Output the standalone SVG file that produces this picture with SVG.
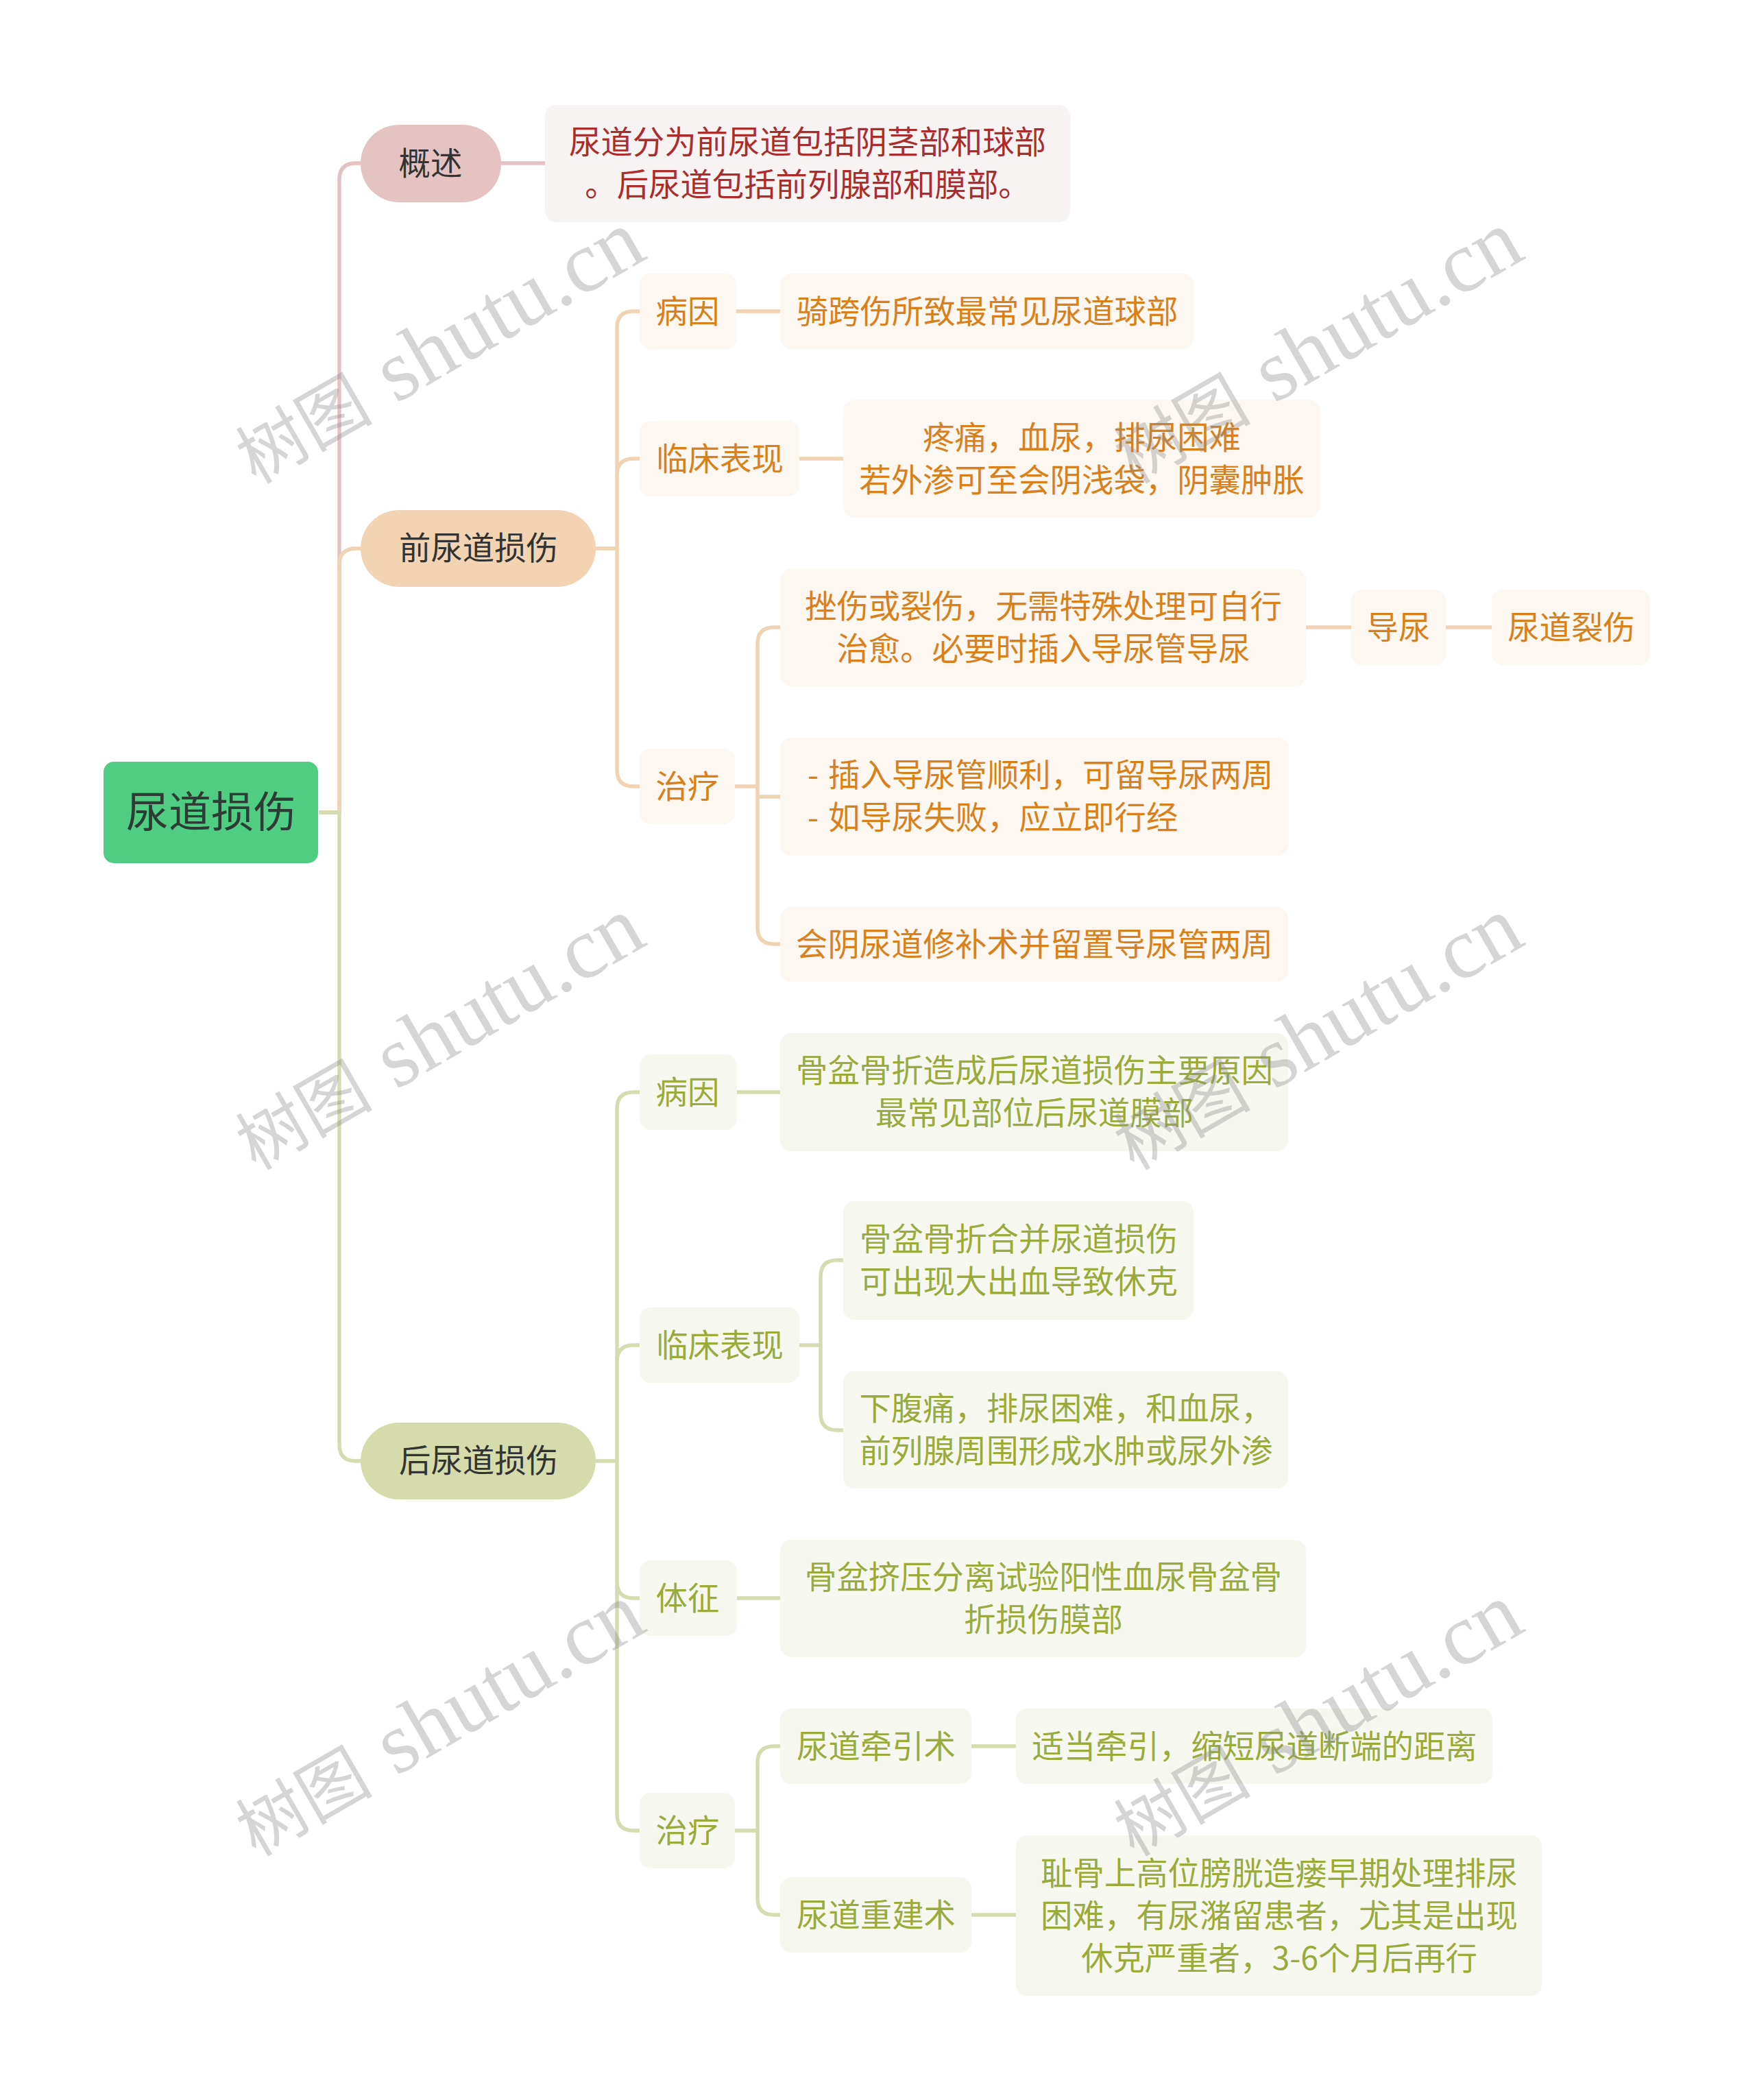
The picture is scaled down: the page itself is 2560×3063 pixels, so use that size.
<svg xmlns="http://www.w3.org/2000/svg" width="2560" height="3063" viewBox="0 0 2560 3063">
<style>
text{font-family:"Noto Sans CJK SC","Noto Sans",sans-serif;font-size:46.4px;text-anchor:middle}
.c{fill:none;stroke-width:5.4;stroke-linecap:butt}
.cr{stroke:#e4c2c2}.co{stroke:#f0d3b3}.cg{stroke:#d6dbb0}
.r rect{fill:#f8f3f3}.r text{fill:#ab2c2c}
.o rect{fill:#fdf7f1}.o text{fill:#d9801b}
.g rect{fill:#f6f8f0}.g text{fill:#9aab3c}
.p text{fill:#333}
.s{text-anchor:start}
.w{font-family:"Noto Sans CJK SC",serif;font-size:100px;fill:#8a8a8a;fill-opacity:.36;text-anchor:start}
.w tspan{font-family:"Liberation Serif",serif;font-size:127px}
</style>
<rect width="2560" height="3063" fill="#fff"/>
<g id="connectors">
<path class="c cr" d="M465 1185H495V262Q495 238 519 238H526M731 238H795"/>
<path class="c co" d="M465 1185H495V824Q495 800 519 800H526M869 800H900M900 800V478Q900 454 924 454H933M1074 454H1138M1165 669H1230M900 693Q900 669 924 669H933M900 800V1123Q900 1147 924 1147H933M1072 1147H1105M1105 1147V939Q1105 915 1129 915H1138M1105 1147V1162H1138M1105 1147V1353Q1105 1377 1129 1377H1138M1904 915H1971M2109 915H2176"/>
<path class="c cg" d="M465 1185H495V2107Q495 2131 519 2131H526M869 2131H900M900 2131V1617Q900 1593 924 1593H933M900 2131V1986Q900 1962 924 1962H933M900 2131V2307Q900 2331 924 2331H933M900 2131V2646Q900 2670 924 2670H933M1075 1593H1138M1165 1962H1197M1197 1962V1862Q1197 1838 1221 1838H1230M1197 1962V2062Q1197 2086 1221 2086H1230M1075 2331H1138M1072 2670H1105M1105 2670V2571Q1105 2547 1129 2547H1138M1105 2670V2769Q1105 2793 1129 2793H1138M1415 2547H1482M1415 2793H1482"/>
</g>
<g id="root"><rect x="151" y="1111" width="313" height="148" rx="15" fill="#4fce83"/><text x="308" y="1207" style="font-size:62px" fill="#2f3b35">尿道损伤</text></g>

<g id="n1" class="p"><rect x="526" y="182" width="205" height="113" rx="56" fill="#e6c3c3"/><text x="628" y="255">概述</text></g>
<g id="n1a" class="r"><rect x="795" y="153" width="766" height="171" rx="16"/><text x="1178" y="224">尿道分为前尿道包括阴茎部和球部</text><text x="1178" y="286">。后尿道包括前列腺部和膜部。</text></g>

<g id="n2" class="p"><rect x="526" y="744" width="343" height="112" rx="56" fill="#f2d4b2"/><text x="698" y="816">前尿道损伤</text></g>
<g id="n2a" class="o"><rect x="933" y="399" width="141" height="110" rx="16"/><text x="1003" y="471">病因</text></g>
<g id="n2a1" class="o"><rect x="1138" y="399" width="603" height="110" rx="16"/><text x="1440" y="471">骑跨伤所致最常见尿道球部</text></g>
<g id="n2b" class="o"><rect x="933" y="614" width="233" height="110" rx="16"/><text x="1050" y="686">临床表现</text></g>
<g id="n2b1" class="o"><rect x="1230" y="583" width="695" height="172" rx="16"/><text x="1578" y="655">疼痛，血尿，排尿困难</text><text x="1578" y="717">若外渗可至会阴浅袋，阴囊肿胀</text></g>
<g id="n2c" class="o"><rect x="933" y="1092" width="139" height="110" rx="16"/><text x="1003" y="1164">治疗</text></g>
<g id="n2c1" class="o"><rect x="1138" y="830" width="767" height="171" rx="16"/><text x="1522" y="901">挫伤或裂伤，无需特殊处理可自行</text><text x="1522" y="963">治愈。必要时插入导尿管导尿</text></g>
<g id="n2c1a" class="o"><rect x="1971" y="860" width="138" height="110" rx="16"/><text x="2040" y="932">导尿</text></g>
<g id="n2c1b" class="o"><rect x="2176" y="860" width="231" height="110" rx="16"/><text x="2292" y="932">尿道裂伤</text></g>
<g id="n2c2" class="o"><rect x="1138" y="1076" width="742" height="172" rx="16"/><text class="s" x="1178" y="1147">- <tspan x="1208">插入导尿管顺利，可留导尿两周</tspan></text><text class="s" x="1178" y="1209">- <tspan x="1208">如导尿失败，应立即行经</tspan></text></g>
<g id="n2c3" class="o"><rect x="1138" y="1323" width="741" height="109" rx="16"/><text x="1509" y="1394">会阴尿道修补术并留置导尿管两周</text></g>

<g id="n3" class="p"><rect x="526" y="2075" width="343" height="112" rx="56" fill="#d6dbab"/><text x="698" y="2147">后尿道损伤</text></g>
<g id="n3a" class="g"><rect x="933" y="1538" width="142" height="110" rx="16"/><text x="1003" y="1610">病因</text></g>
<g id="n3a1" class="g"><rect x="1138" y="1507" width="741" height="172" rx="16"/><text x="1509" y="1578">骨盆骨折造成后尿道损伤主要原因</text><text x="1509" y="1640">最常见部位后尿道膜部</text></g>
<g id="n3b" class="g"><rect x="933" y="1907" width="233" height="110" rx="16"/><text x="1050" y="1979">临床表现</text></g>
<g id="n3b1" class="g"><rect x="1230" y="1752" width="511" height="173" rx="16"/><text x="1486" y="1824">骨盆骨折合并尿道损伤</text><text x="1486" y="1886">可出现大出血导致休克</text></g>
<g id="n3b2" class="g"><rect x="1230" y="2000" width="649" height="171" rx="16"/><text x="1555" y="2071">下腹痛，排尿困难，和血尿，</text><text x="1555" y="2133">前列腺周围形成水肿或尿外渗</text></g>
<g id="n3c" class="g"><rect x="933" y="2276" width="142" height="110" rx="16"/><text x="1003" y="2348">体征</text></g>
<g id="n3c1" class="g"><rect x="1138" y="2246" width="767" height="171" rx="16"/><text x="1522" y="2317">骨盆挤压分离试验阳性血尿骨盆骨</text><text x="1522" y="2379">折损伤膜部</text></g>
<g id="n3d" class="g"><rect x="933" y="2615" width="139" height="110" rx="16"/><text x="1003" y="2687">治疗</text></g>
<g id="n3d1" class="g"><rect x="1138" y="2492" width="279" height="110" rx="16"/><text x="1278" y="2564">尿道牵引术</text></g>
<g id="n3d1a" class="g"><rect x="1482" y="2492" width="695" height="110" rx="16"/><text x="1830" y="2564">适当牵引，缩短尿道断端的距离</text></g>
<g id="n3d2" class="g"><rect x="1138" y="2738" width="279" height="110" rx="16"/><text x="1278" y="2810">尿道重建术</text></g>
<g id="n3d2a" class="g"><rect x="1482" y="2677" width="767" height="234" rx="16"/><text x="1866" y="2749">耻骨上高位膀胱造瘘早期处理排尿</text><text x="1866" y="2811">困难，有尿潴留患者，尤其是出现</text><text x="1866" y="2873">休克严重者，3-6个月后再行</text></g>

<g id="watermarks">
<text class="w" transform="translate(373 707) rotate(-30)">树图 <tspan x="236">shutu.cn</tspan></text>
<text class="w" transform="translate(1654 707) rotate(-30)">树图 <tspan x="236">shutu.cn</tspan></text>
<text class="w" transform="translate(373 1708) rotate(-30)">树图 <tspan x="236">shutu.cn</tspan></text>
<text class="w" transform="translate(1654 1708) rotate(-30)">树图 <tspan x="236">shutu.cn</tspan></text>
<text class="w" transform="translate(373 2709) rotate(-30)">树图 <tspan x="236">shutu.cn</tspan></text>
<text class="w" transform="translate(1654 2709) rotate(-30)">树图 <tspan x="236">shutu.cn</tspan></text>
</g>
</svg>
